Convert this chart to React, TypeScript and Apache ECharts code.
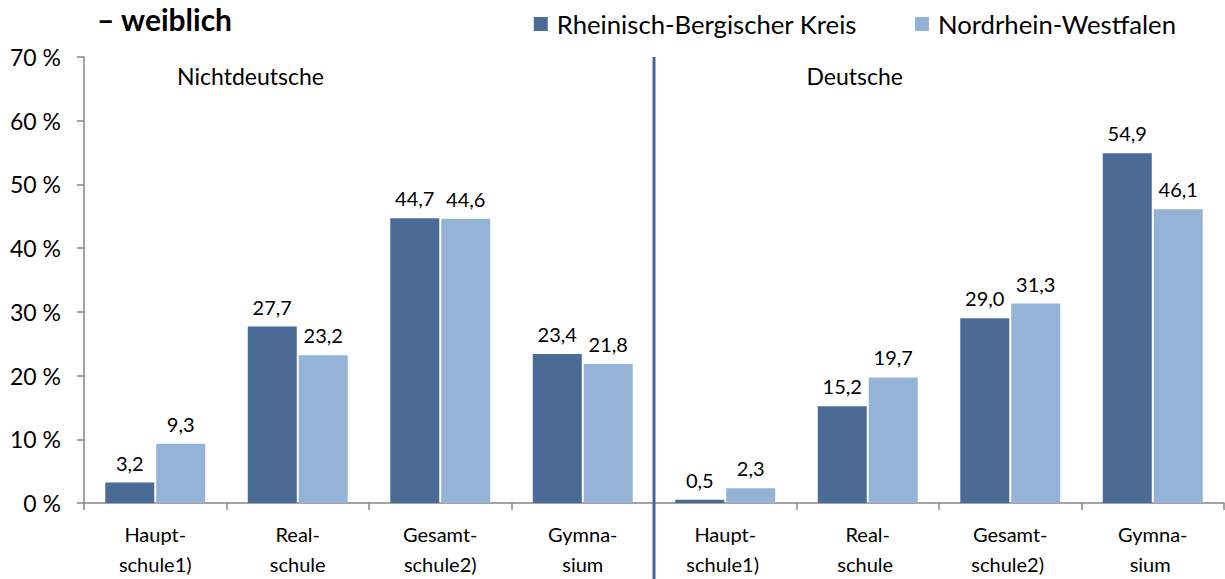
import React, { useEffect, useRef } from "react";
import * as echarts from "echarts";

const categories = [
  "Haupt-\nschule1)",
  "Real-\nschule",
  "Gesamt-\nschule2)",
  "Gymna-\nsium",
  "Haupt-\nschule1) ",
  "Real-\nschule ",
  "Gesamt-\nschule2) ",
  "Gymna-\nsium ",
];
const seriesNames = ["Rheinisch-Bergischer Kreis", "Nordrhein-Westfalen"];
const rbkValues = [3.2, 27.7, 44.7, 23.4, 0.5, 15.2, 29.0, 54.9];
const nrwValues = [9.3, 23.2, 44.6, 21.8, 2.3, 19.7, 31.3, 46.1];
const yTicks = [0, 10, 20, 30, 40, 50, 60, 70];
const groupLabels = ["Nichtdeutsche", "Deutsche"];
const titleText = "– weiblich";

const FONT = "Lato";
const DARK = "#4A6B95";
const LIGHT = "#95B3D7";

export default function App() {
  const ref = useRef<HTMLDivElement>(null);
  useEffect(() => {
    if (!ref.current) return;
    const chart = echarts.init(ref.current, null, { renderer: "svg" });
    const fmt = (p: any) => Number(p.value).toFixed(1).replace(".", ",");
    const labelCfg = {
      show: true,
      position: "top" as const,
      distance: 10,
      formatter: fmt,
      fontFamily: FONT,
      fontSize: 20,
      color: "#000",
    };
    chart.setOption({
      animation: false,
      textStyle: { fontFamily: FONT },
      legend: {
        data: seriesNames,
        top: 6,
        right: 44,
        itemWidth: 14,
        itemHeight: 14,
        itemGap: 58,
        icon: "rect",
        textStyle: { fontFamily: FONT, fontSize: 25.7, color: "#000", padding: [0, 0, 0, 4] },
      },
      grid: { left: 84, right: 1, top: 57, bottom: 76, containLabel: false },
      xAxis: {
        type: "category",
        data: categories,
        axisLine: { lineStyle: { color: "#868686", width: 1.5 } },
        axisTick: { show: true, length: 7, lineStyle: { color: "#868686", width: 1.5 } },
        axisLabel: {
          fontFamily: FONT,
          fontSize: 20,
          color: "#000",
          lineHeight: 30,
          margin: 16,
          interval: 0,
        },
      },
      yAxis: {
        type: "value",
        min: yTicks[0],
        max: yTicks[yTicks.length - 1],
        interval: 10,
        axisLine: { show: true, lineStyle: { color: "#868686", width: 1.5 } },
        axisTick: { show: true, length: 7, lineStyle: { color: "#868686", width: 1.5 } },
        splitLine: { show: false },
        axisLabel: {
          fontFamily: FONT,
          fontSize: 23,
          color: "#000",
          margin: 23,
          formatter: (v: number) => `${v} %`,
        },
      },
      series: [
        {
          name: seriesNames[0],
          type: "bar",
          data: rbkValues,
          barWidth: 49,
          barGap: "4%",
          itemStyle: { color: DARK },
          label: labelCfg,
        },
        {
          name: seriesNames[1],
          type: "bar",
          data: nrwValues,
          barWidth: 49,
          barGap: "4%",
          itemStyle: { color: LIGHT },
          label: labelCfg,
        },
      ],
    });
    const x3 = chart.convertToPixel({ xAxisIndex: 0 }, 3) as number;
    const x4 = chart.convertToPixel({ xAxisIndex: 0 }, 4) as number;
    const x0 = chart.convertToPixel({ xAxisIndex: 0 }, 0) as number;
    const x1 = chart.convertToPixel({ xAxisIndex: 0 }, 1) as number;
    const x5 = chart.convertToPixel({ xAxisIndex: 0 }, 5) as number;
    const yTop = chart.convertToPixel({ yAxisIndex: 0 }, 70) as number;
    const divX = (x3 + x4) / 2;
    chart.setOption({
      graphic: [
        {
          type: "text",
          x: 97,
          y: 4,
          style: {
            text: titleText,
            fontFamily: FONT,
            fontSize: 30,
            fontWeight: "bold",
            fill: "#000",
            align: "left",
            verticalAlign: "top",
          },
        },
        {
          type: "line",
          shape: { x1: divX, y1: yTop, x2: divX, y2: 579 },
          style: { stroke: "#3F67A0", lineWidth: 3 },
          z: 10,
        },
        {
          type: "text",
          x: (x0 + x1) / 2 + 24,
          y: yTop + 19,
          style: {
            text: groupLabels[0],
            fontFamily: FONT,
            fontSize: 23,
            fill: "#000",
            align: "center",
            verticalAlign: "middle",
          },
        },
        {
          type: "text",
          x: x5 - 13,
          y: yTop + 19,
          style: {
            text: groupLabels[1],
            fontFamily: FONT,
            fontSize: 23,
            fill: "#000",
            align: "center",
            verticalAlign: "middle",
          },
        },
      ],
    });
    return () => chart.dispose();
  }, []);
  return (
    <div
      ref={ref}
      style={{ position: "absolute", left: 0, top: 0, width: 1225, height: 579 }}
    />
  );
}
